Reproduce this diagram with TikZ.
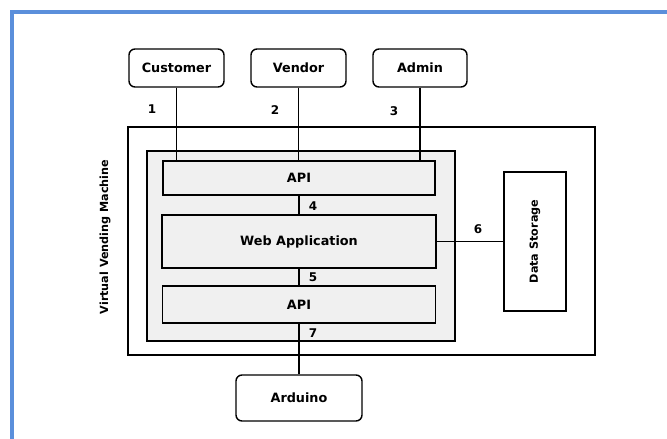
\documentclass[tikz,border=0pt]{standalone}
\usepackage{fontspec}
\setmainfont{DejaVu Sans}
\definecolor{frameblue}{HTML}{5B8FDB}
\definecolor{panelgray}{HTML}{F0F0F0}
\begin{document}
\begin{tikzpicture}[x=1pt,y=-1pt,
		txt/.style={font=\fontsize{12.8}{15}\selectfont\bfseries},
		sidetxt/.style={font=\fontsize{11.2}{13}\selectfont\bfseries, rotate=90},
		actor/.style={txt, draw, line width=1.4pt, rounded corners=6pt, inner sep=0pt},
		layer/.style={txt, draw, line width=1.3pt, fill=panelgray, inner sep=0pt},
		num/.style={font=\fontsize{12}{14}\selectfont\bfseries, inner sep=0pt}]
		\useasboundingbox (0,0) rectangle (667,439);
		\draw[frameblue, line width=4pt](12,439) |- (667,11.5);
		% outer and inner frames
		\node[draw, line width=1.3pt, minimum width=467pt, minimum height=228pt] (vvm) at (361.5,241) {};
		\node[draw, line width=1.8pt, fill=panelgray, minimum width=308pt, minimum height=190pt] (core) at (301,246) {};
		\node[sidetxt] (vvmlabel) at (105,237) {Virtual Vending Machine};
		% users
		\node[actor, minimum width=95pt, minimum height=38pt] (customer) at (176.5,68) {Customer};
		\node[actor, minimum width=95pt, minimum height=38pt] (vendor) at (298.5,68) {Vendor};
		\node[actor, minimum width=94pt, minimum height=38pt] (admin) at (420,68) {Admin};
		% layers
		\node[layer, minimum width=272pt, minimum height=34pt] (apitop) at (299,178) {API};
		\node[layer, minimum width=274pt, minimum height=53pt] (webapp) at (299,241.5) {Web Application};
		\node[layer, minimum width=273pt, minimum height=37pt] (apibot) at (299,304.5) {API};
		\node[draw, line width=1.4pt, minimum width=62pt, minimum height=139pt, inner sep=0pt] (storage) at (535,241.5) {};
		\node[sidetxt] (storagelabel) at (storage.center) {Data Storage};
		\node[actor, minimum width=126pt, minimum height=46pt] (arduino) at (299,398) {Arduino};
		% links
		\draw[line width=1.3pt](customer.south) -- (customer.south |- apitop.north);
		\draw[line width=1.3pt](vendor.south) -- (vendor.south |- apitop.north);
		\draw[line width=1.3pt](admin.south) -- (admin.south |- apitop.north);
		\draw[line width=1.3pt](apitop.south) -- (webapp.north);
		\draw[line width=1.3pt](webapp.south) -- (apibot.north);
		\draw[line width=1.3pt](apibot.south) -- (arduino.north);
		\draw[line width=1.3pt](webapp.east) -- (storage.west);
		\node[num] (n1) at (152,109) {1};
		\node[num] (n2) at (275,110) {2};
		\node[num] (n3) at (394,111) {3};
		\node[num] (n4) at (313,206) {4};
		\node[num] (n5) at (313,277) {5};
		\node[num] (n6) at (478,229) {6};
		\node[num] (n7) at (313,333) {7};
\end{tikzpicture}
\end{document}
